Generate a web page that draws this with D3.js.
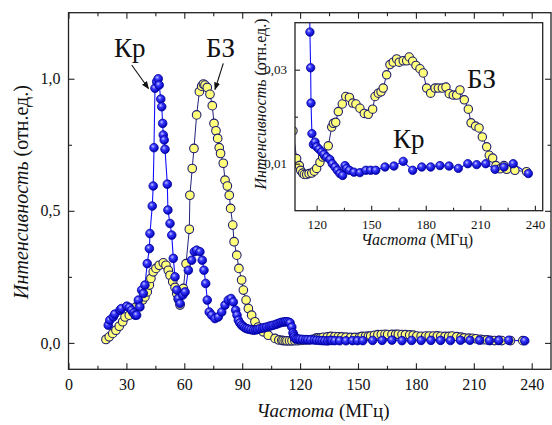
<!DOCTYPE html>
<html><head><meta charset="utf-8">
<script src="https://cdn.jsdelivr.net/npm/d3@7"></script>
<style>body{margin:0;background:#fff}svg{display:block}svg text{font-family:'Liberation Serif','Times New Roman',Times,'DejaVu Serif',serif !important;fill:#111}</style>
</head><body><svg id="c" width="552" height="425"></svg>
<script>
// ---- data ----
const krFreq = [20.6,21.4,23.2,24.0,26.7,27.4,30.2,31.5,32.7,33.9,34.5,35.3,36.2,37.0,37.9,38.8,39.6,40.8,41.9,42.2,43.4,43.9,44.3,44.8,45.7,46.5,47.0,47.8,48.3,48.8,49.1,49.6,50.0,51.2,51.5,52.6,53.5,54.3,55.2,56.1,56.9,57.8,59.2,60.4,62.1,63.8,65.2,66.4,68.1,69.3,70.2,71.1,71.9,72.9,74.2,75.9,77.6,79.4,81.1,82.8,84.2,85.4,86.6,87.3,88.0,88.8,89.7,90.5,91.4,92.3,93.3,94.5,95.8,97.0,98.0,99.2,100.5,101.5,102.7,104.0,105.0,106.1,107.5,108.5,109.6,110.5,111.5,112.3,113.1,114.0,114.8,115.7,116.3,116.7,116.9,117.4,118.2,119.1,120.0,121.3,122.8,124.0,125.5,127.3,128.6,130.1,131.4,132.8,134.3,135.6,136.5,138.0,140.5,143.8,147.1,149.7,152.5,157.6,162.5,167.6,172.8,177.8,182.7,187.8,192.8,197.9,203.1,208.0,213.0,218.1,223.0,228.1,236.4];
const krInt  = [0.067,0.086,0.098,0.109,0.124,0.130,0.139,0.134,0.124,0.114,0.105,0.105,0.162,0.136,0.200,0.187,0.219,0.300,0.357,0.414,0.518,0.594,0.739,0.964,0.989,1.000,0.976,0.923,0.894,0.831,0.787,0.768,0.733,0.601,0.503,0.452,0.408,0.320,0.250,0.200,0.168,0.149,0.181,0.193,0.275,0.313,0.345,0.351,0.345,0.313,0.275,0.225,0.162,0.117,0.105,0.092,0.098,0.117,0.143,0.162,0.168,0.155,0.124,0.105,0.086,0.075,0.067,0.062,0.057,0.054,0.052,0.050,0.048,0.049,0.051,0.054,0.056,0.058,0.060,0.063,0.065,0.067,0.070,0.073,0.076,0.078,0.079,0.080,0.080,0.079,0.076,0.060,0.0380,0.0304,0.0229,0.0164,0.0141,0.0146,0.0136,0.0131,0.0125,0.0120,0.0114,0.0109,0.0100,0.0093,0.0086,0.0079,0.0075,0.0096,0.0090,0.0086,0.0082,0.0081,0.0086,0.0086,0.0086,0.0093,0.0095,0.0105,0.0086,0.0093,0.0093,0.0096,0.0095,0.0090,0.0100,0.0098,0.0100,0.0088,0.0093,0.0100,0.0079];
const bzFreq = [19.4,21.1,22.9,24.6,26.3,28.1,29.3,31.5,33.3,35.0,36.7,38.4,39.6,40.8,41.9,42.7,43.9,45.3,47.0,49.1,50.5,51.7,52.6,54.0,55.2,56.1,56.9,57.8,59.5,60.9,62.6,62.9,64.1,65.0,66.4,67.8,69.0,69.9,70.7,71.9,73.3,74.5,75.4,76.4,77.3,78.1,78.8,80.2,81.1,82.3,83.3,84.0,85.1,85.8,87.2,88.3,89.7,90.6,92.0,93.2,94.9,96.6,98.3,100.9,103.5,107.0,109.0,110.5,111.2,112.3,113.2,114.5,115.8,117.3,118.7,120.0,121.8,123.3,124.6,126.4,128.3,129.2,130.5,131.9,134.1,136.0,138.0,139.8,141.6,143.8,146.2,148.4,150.8,152.1,153.9,155.4,156.6,158.5,160.3,162.1,164.0,165.4,167.6,169.5,170.9,172.8,174.6,176.8,178.6,180.5,182.7,185.1,186.9,189.1,191.1,192.9,195.1,197.0,198.8,201.2,203.4,204.9,207.4,209.3,211.1,213.5,214.9,216.8,218.6,220.8,223.0,224.5,229.0,235.4];
const bzInt  = [0.013,0.023,0.036,0.048,0.063,0.080,0.098,0.105,0.117,0.136,0.149,0.162,0.174,0.193,0.219,0.244,0.269,0.282,0.294,0.303,0.294,0.275,0.256,0.231,0.210,0.187,0.165,0.143,0.206,0.300,0.430,0.559,0.660,0.736,0.863,0.951,0.972,0.980,0.976,0.967,0.941,0.898,0.831,0.803,0.774,0.739,0.717,0.680,0.616,0.594,0.559,0.509,0.446,0.383,0.332,0.282,0.238,0.200,0.162,0.130,0.105,0.080,0.060,0.042,0.029,0.017,0.0111,0.0096,0.0086,0.0080,0.0077,0.0077,0.0079,0.0080,0.0084,0.0090,0.0103,0.0114,0.0116,0.0138,0.0178,0.0186,0.0188,0.0211,0.0227,0.0243,0.0241,0.0229,0.0227,0.0218,0.0207,0.0205,0.0216,0.0243,0.0250,0.0253,0.0261,0.0289,0.0311,0.0316,0.0323,0.0316,0.0319,0.0319,0.0327,0.0318,0.0309,0.0302,0.0293,0.0261,0.0250,0.0261,0.0261,0.0261,0.0263,0.0249,0.0246,0.0246,0.0257,0.0236,0.0216,0.0187,0.0180,0.0176,0.0157,0.0136,0.0118,0.0112,0.0096,0.0089,0.0096,0.0088,0.0086,0.0083];
const mainXTicks = [0,30,60,90,120,150,180,210,240];
const mainYTicks = [0,0.5,1.0];
const insetXTicks = [120,150,180,210,240];
const insetYTicks = [0.01,0.03];
const seriesNames = ["Кр","БЗ"];
const xTitleItalic = "Частота", xTitleUnit = " (МГц)";
const yTitleItalic = "Интенсивность", yTitleUnit = " (отн.ед.)";

const kr = krFreq.map((f,i)=>({x:f,y:krInt[i]}));
const bz = bzFreq.map((f,i)=>({x:f,y:bzInt[i]}));
const FONT = "'Liberation Serif','Times New Roman',Times,serif";

const svg = d3.select("#c");
const defs = svg.append("defs");
const g = defs.append("radialGradient").attr("id","gb").attr("cx","0.38").attr("cy","0.35").attr("r","0.65");
g.append("stop").attr("offset","0%").attr("stop-color","#c8c8ff");
g.append("stop").attr("offset","35%").attr("stop-color","#3a3aff");
g.append("stop").attr("offset","100%").attr("stop-color","#0000b4");

function panel(opt){
  const {x0,x1,y0,y1,xd,yd,xt,xminor,yt,yminor,tickLen,minorLen,fs,mirror,id,r,xdec,ydec} = opt;
  const x = d3.scaleLinear().domain(xd).range([x0,x1]);
  const y = d3.scaleLinear().domain(yd).range([y1,y0]);
  const root = svg.append("g");
  root.append("rect").attr("x",x0).attr("y",y0).attr("width",x1-x0).attr("height",y1-y0).attr("fill","#fff");
  defs.append("clipPath").attr("id",id).append("rect").attr("x",x0).attr("y",y0).attr("width",x1-x0).attr("height",y1-y0);
  const data = root.append("g").attr("clip-path",`url(#${id})`);
  const line = d3.line().x(d=>x(d.x)).y(d=>y(d.y));
  data.append("path").datum(bz).attr("d",line).attr("fill","none").attr("stroke","#23237a").attr("stroke-width",1);
  data.append("path").datum(kr).attr("d",line).attr("fill","none").attr("stroke","#1010ff").attr("stroke-width",1.1);
  data.selectAll(".bz").data(bz).join("circle").attr("cx",d=>x(d.x)).attr("cy",d=>y(d.y)).attr("r",r)
    .attr("fill","#ffff7a").attr("stroke","#1e1e6e").attr("stroke-width",1.1);
  data.selectAll(".kr").data(kr).join("circle").attr("cx",d=>x(d.x)).attr("cy",d=>y(d.y)).attr("r",r)
    .attr("fill","url(#gb)").attr("stroke","#0000a0").attr("stroke-width",0.8);
  const ax = root.append("g");
  const fx = d=>d.toFixed(xdec).replace(".",","), fy = d=>d.toFixed(ydec).replace(".",",");
  const mk = (a,tv,len,f)=>a.tickValues(tv).tickSize(-len).tickSizeOuter(0).tickFormat(f||"");
  ax.append("g").attr("transform",`translate(0,${y1})`).call(mk(d3.axisBottom(x),xt,tickLen,fx).tickPadding(9));
  ax.append("g").attr("transform",`translate(0,${y1})`).call(mk(d3.axisBottom(x),xminor,minorLen));
  ax.append("g").attr("transform",`translate(${x0},0)`).call(mk(d3.axisLeft(y),yt,tickLen,fy).tickPadding(8));
  ax.append("g").attr("transform",`translate(${x0},0)`).call(mk(d3.axisLeft(y),yminor,minorLen));
  if(mirror){
    ax.append("g").attr("transform",`translate(0,${y0})`).call(mk(d3.axisTop(x),xt,tickLen));
    ax.append("g").attr("transform",`translate(0,${y0})`).call(mk(d3.axisTop(x),xminor,minorLen));
    ax.append("g").attr("transform",`translate(${x1},0)`).call(mk(d3.axisRight(y),yt,tickLen));
    ax.append("g").attr("transform",`translate(${x1},0)`).call(mk(d3.axisRight(y),yminor,minorLen));
  }
  ax.selectAll("g").attr("font-family",FONT);
  ax.selectAll(".domain").remove();
  ax.selectAll("line").attr("stroke","#222").attr("stroke-width",1.1);
  ax.selectAll("text").style("font-family",FONT).attr("font-size",fs).attr("fill","#222");
  root.append("rect").attr("x",x0).attr("y",y0).attr("width",x1-x0).attr("height",y1-y0)
    .attr("fill","none").attr("stroke","#222").attr("stroke-width",1.3);
  return {x,y,root};
}

const M = panel({id:"cm",x0:68.5,x1:551,y0:12.7,y1:369.3,xd:[0,250],yd:[-0.1,1.25],
  xt:mainXTicks,xminor:d3.range(15,250,30),yt:mainYTicks,yminor:[0.25,0.75],
  tickLen:6,minorLen:3.5,fs:16,mirror:true,r:4.3,xdec:0,ydec:1});
const I = panel({id:"ci",x0:295,x1:542.7,y0:22.7,y1:210.7,xd:[108.1,244.3],yd:[0,0.04],
  xt:insetXTicks,xminor:d3.range(135,244,30),yt:insetYTicks,yminor:[0.02],
  tickLen:5,minorLen:3,fs:13,mirror:false,r:4.2,xdec:0,ydec:2});

function title(x,y,fs,it,unit,rot){
  const t = svg.append("text").attr("text-anchor","middle").attr("font-size",fs).style("font-family",FONT)
    .attr("transform",`translate(${x},${y})`+(rot?" rotate(-90)":""));
  t.append("tspan").attr("font-style","italic").text(it);
  t.append("tspan").text(unit);
}
title(323,417,19,xTitleItalic,xTitleUnit,false);
title(28,192,20,yTitleItalic,yTitleUnit,true);
title(417,245,16,xTitleItalic,xTitleUnit,false);
title(266,104,16,yTitleItalic,yTitleUnit,true);

defs.append("marker").attr("id","ah").attr("viewBox","0 0 10 10").attr("refX",9).attr("refY",5)
  .attr("markerWidth",7).attr("markerHeight",7).attr("orient","auto")
  .append("path").attr("d","M0,1 L10,5 L0,9 Z").attr("fill","#111");
const lab = (x,y,t)=>svg.append("text").attr("x",x).attr("y",y).attr("font-size",27).style("font-family",FONT).text(t);
lab(114,57,seriesNames[0]);
lab(206,57,seriesNames[1]);
lab(467,88,seriesNames[1]);
lab(393,148,seriesNames[0]);
svg.append("line").attr("x1",131.7).attr("y1",65).attr("x2",148.5).attr("y2",88.5).attr("stroke","#111").attr("stroke-width",1.1).attr("marker-end","url(#ah)");
svg.append("line").attr("x1",223.3).attr("y1",63.3).attr("x2",215).attr("y2",89.5).attr("stroke","#111").attr("stroke-width",1.1).attr("marker-end","url(#ah)");
</script></body></html>
